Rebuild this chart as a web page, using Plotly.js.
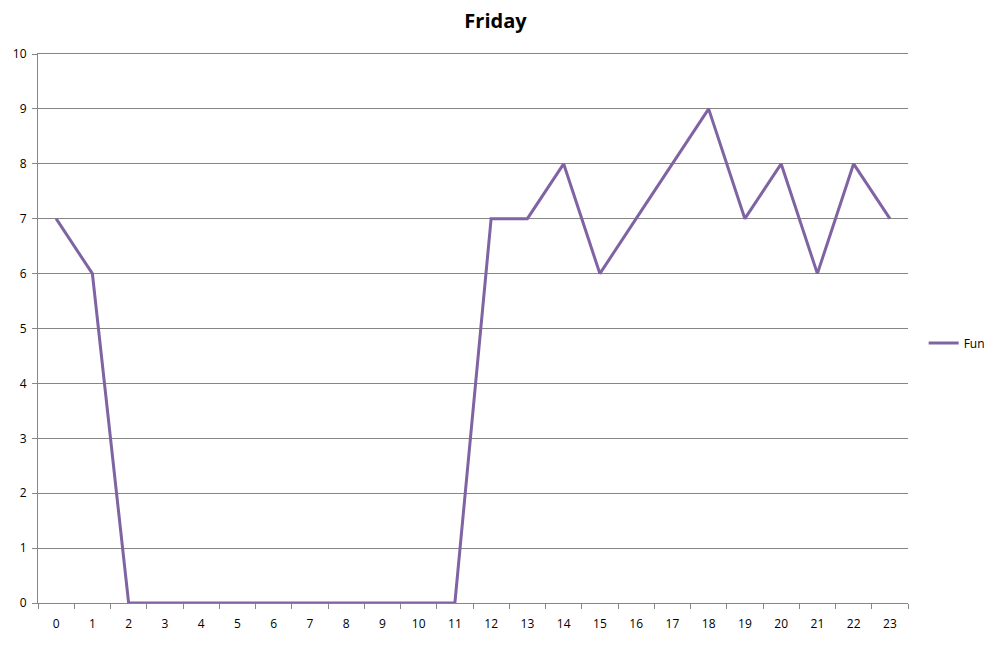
<!DOCTYPE html>
<html>
<head>
<meta charset="utf-8">
<script src="https://cdn.plot.ly/plotly-3.0.1.min.js"></script>
<style>html,body{margin:0;padding:0;background:#fff;}#chart{width:991px;height:646px;}</style>
</head>
<body>
<div id="chart"></div>
<script>
const hours = ["0","1","2","3","4","5","6","7","8","9","10","11","12","13","14","15","16","17","18","19","20","21","22","23"];
const fun = [7,6,0,0,0,0,0,0,0,0,0,0,7,7,8,6,7,8,9,7,8,6,8,7];
const yTicks = [0,1,2,3,4,5,6,7,8,9,10];

const data = [{
  x: hours, y: fun, type: 'scatter', mode: 'lines', name: 'Fun',
  line: {color: '#7f63a2', width: 3}
}];
const layout = {
  width: 991, height: 646,
  margin: {l: 38, r: 83, t: 54, b: 43, autoexpand: false},
  paper_bgcolor: '#ffffff', plot_bgcolor: '#ffffff',
  font: {family: 'Open Sans, Liberation Sans, sans-serif', size: 12, color: '#000'},
  title: {text: '<b>Friday</b>', x: 0.5, xanchor: 'center', y: 0.967, yanchor: 'middle',
          font: {size: 20, family: 'Open Sans, Liberation Sans, sans-serif', color: '#000'}},
  xaxis: {type: 'category', range: [-0.5, 23.5], tickson: 'boundaries', ticks: 'outside', ticklen: 5, tickcolor: '#868686',
          showline: true, mirror: true, linecolor: '#868686', linewidth: 1, showgrid: false, zeroline: false,
          ticklabelstandoff: 10, tickfont: {size: 12, color: '#000'}, fixedrange: true, automargin: false},
  yaxis: {range: [0, 10], tickmode: 'array', tickvals: yTicks, ticks: 'outside', ticklen: 5,
          tickcolor: '#868686', showline: true, linecolor: '#868686', linewidth: 1,
          showgrid: true, gridcolor: '#868686', gridwidth: 1, zeroline: false,
          ticklabelstandoff: 3, tickfont: {size: 12, color: '#000'}, fixedrange: true, automargin: false},
  showlegend: true,
  legend: {x: 1.018, y: 0.4736, xanchor: 'left', yanchor: 'middle', itemwidth: 30,
           font: {size: 12, color: '#000'}, bgcolor: 'rgba(0,0,0,0)'}
};
Plotly.newPlot('chart', data, layout, {displayModeBar: false, staticPlot: true});
</script>
</body>
</html>
